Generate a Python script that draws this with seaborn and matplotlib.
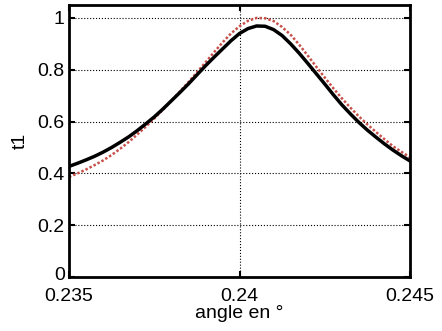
import numpy as np
import pandas as pd
import matplotlib
matplotlib.use("Agg")
import matplotlib.pyplot as plt
import matplotlib.transforms as mtransforms
import seaborn as sns

angle = [0.23500, 0.23525, 0.23550, 0.23575, 0.23600, 0.23625, 0.23650, 0.23675, 0.23700, 0.23725,
         0.23750, 0.23775, 0.23800, 0.23825, 0.23850, 0.23875, 0.23900, 0.23925, 0.23950, 0.23975,
         0.24000, 0.24025, 0.24050, 0.24075, 0.24100, 0.24125, 0.24150, 0.24175, 0.24200, 0.24225,
         0.24250, 0.24275, 0.24300, 0.24325, 0.24350, 0.24375, 0.24400, 0.24425, 0.24450, 0.24475,
         0.24500]
t1_black = [0.427, 0.439, 0.452, 0.466, 0.482, 0.500, 0.520, 0.541, 0.565, 0.591,
            0.618, 0.648, 0.680, 0.712, 0.745, 0.780, 0.815, 0.848, 0.880, 0.912,
            0.940, 0.959, 0.969, 0.968, 0.955, 0.932, 0.900, 0.864, 0.825, 0.785,
            0.745, 0.704, 0.665, 0.630, 0.597, 0.567, 0.540, 0.514, 0.490, 0.468,
            0.448]
t1_red = [0.386, 0.400, 0.415, 0.432, 0.450, 0.471, 0.495, 0.521, 0.550, 0.580,
          0.612, 0.645, 0.680, 0.716, 0.752, 0.790, 0.828, 0.867, 0.905, 0.940,
          0.968, 0.989, 1.000, 0.999, 0.988, 0.965, 0.935, 0.897, 0.855, 0.812,
          0.770, 0.729, 0.690, 0.654, 0.620, 0.589, 0.560, 0.532, 0.505, 0.483,
          0.462]
xticks = [0.235, 0.24, 0.245]
yticks = [0, 0.2, 0.4, 0.6, 0.8, 1]

sns.set_style("white")
plt.rcParams['font.family'] = ['Liberation Sans', 'DejaVu Sans']

df = pd.DataFrame({'angle': angle, 'black': t1_black, 'red': t1_red})

fig = plt.figure(figsize=(4.42, 3.31), dpi=100)
ax = fig.add_axes([69 / 442, 1 - 277 / 331, 341 / 442, 272 / 331])

sns.lineplot(data=df, x='angle', y='red', ax=ax, color='#c8504a', linestyle=(0, (1, 0.8)),
             linewidth=1.8)
sns.lineplot(data=df, x='angle', y='black', ax=ax, color='black', linewidth=2.5)

ax.set_xlim(0.235, 0.245)
ax.set_ylim(0, 1.05)
ax.set_xticks(xticks)
ax.set_xticklabels(['0.235', '0.24', '0.245'])
ax.set_yticks(yticks)
ax.set_yticklabels(['0', '0.2', '0.4', '0.6', '0.8', '1'])
ax.grid(True, color='black', linestyle=':', linewidth=0.8)
ax.tick_params(direction='in', length=4, width=1.5, labelsize=14, pad=3,
               colors='black', top=True, right=True, bottom=True, left=True)
ax.tick_params(axis='x', pad=8)
# lift the "0" label a little so it sits above the 0.235 label, as in MATLAB
ylab0 = ax.get_yticklabels()[0]
ylab0.set_transform(ylab0.get_transform() + mtransforms.ScaledTranslation(0, 3 / 100, fig.dpi_scale_trans))
for s in ax.spines.values():
    s.set_linewidth(2)
    s.set_color('black')
ax.set_xlabel('angle en °', fontsize=14, labelpad=0, color='black')
ax.set_ylabel('t1', fontsize=14, labelpad=6, color='black')

fig.savefig('out.png', dpi=100)
